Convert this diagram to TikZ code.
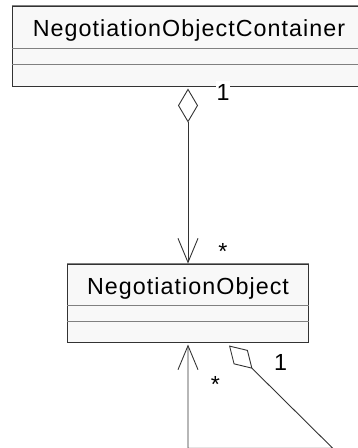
\documentclass[tikz,border=0pt]{standalone}
\usepackage{fontspec}
\setmainfont{Liberation Sans}[LetterSpace=4.5]
\usetikzlibrary{arrows.meta,positioning,calc}

\definecolor{umlline}{HTML}{333333}
\definecolor{umlsep}{HTML}{808080}
\definecolor{umlfill}{HTML}{F8F8F8}

\begin{document}
\begin{tikzpicture}[x=1pt,y=-1pt,
  classbox/.style={draw=umlline, fill=umlfill, line width=1pt, inner sep=0pt},
  classname/.style={font=\fontsize{23.3}{28}\selectfont, anchor=base, inner sep=0pt},
  sepline/.style={umlsep, line width=1pt},
  assoc/.style={umlline, line width=0.9pt},
  mult/.style={font=\fontsize{23.3}{28}\selectfont, fill=white, anchor=base, inner xsep=1pt, inner ysep=3pt}]
\useasboundingbox (0,0) rectangle (358,448);
% container class
\node[classbox, minimum width=352pt, minimum height=80pt] (cont) at (188,46) {};
\draw[sepline] (cont.north west) -- (cont.north east);
\draw[sepline] ($(cont.north west)+(0,43)$) -- ($(cont.north east)+(0,43)$);
\draw[sepline] ($(cont.north west)+(0,59)$) -- ($(cont.north east)+(0,59)$);
\node[classname] (contname) at ($(cont.north)+(1,30.7)$) {NegotiationObjectContainer};
% object class
\node[classbox, minimum width=241pt, minimum height=78pt, below=177pt of cont] (obj) {};
\draw[sepline] (obj.north west) -- (obj.north east);
\draw[sepline] ($(obj.north west)+(0,42)$) -- ($(obj.north east)+(0,42)$);
\draw[sepline] ($(obj.north west)+(0,58)$) -- ($(obj.north east)+(0,58)$);
\node[classname] (objname) at ($(obj.north)+(0,31.3)$) {NegotiationObject};
% aggregation container -> objects
\draw[assoc, {Diamond[open,length=34pt,width=20pt]}-{Straight Barb[length=24pt,width=20pt]}, shorten <=2pt]
  (cont.south) -- (obj.north);
% self aggregation
\coordinate (selfA) at ($(obj.south)+(41,3)$);
\coordinate (selfB) at ($(obj.south)+(144.7,105.7)$);
\coordinate (selfC) at ($(obj.south)+(0,105.7)$);
\draw[assoc, {Diamond[open,length=33pt,width=20pt]}-{Straight Barb[length=24pt,width=20pt]}, shorten >=2pt]
  (selfA) -- (selfB) -- (selfC) -- (obj.south);
% multiplicities
\node[mult] (m1) at (223,100.2) {1};
\node[mult] (m2) at (223,259.5) {*};
\node[mult] (m3) at (280.5,370.7) {1};
\node[mult] (m4) at (215.5,392) {*};
\end{tikzpicture}
\end{document}
